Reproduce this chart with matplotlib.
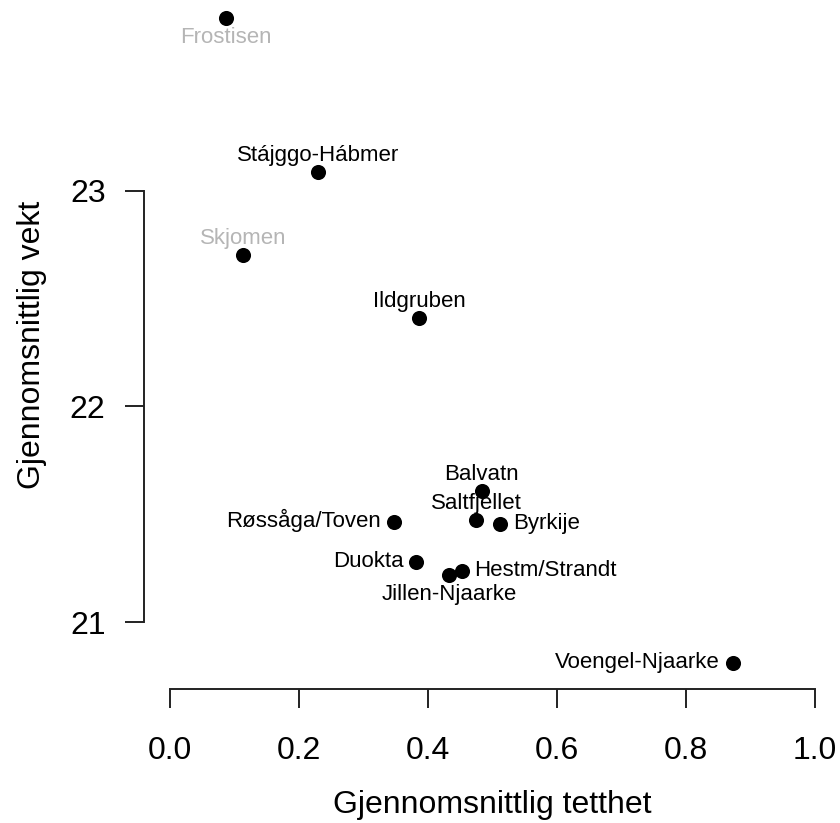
import matplotlib
matplotlib.use("Agg")
import matplotlib.pyplot as plt

plt.rcParams['font.family'] = ['Liberation Sans', 'DejaVu Sans']

names = ["Frostisen", "Stájggo-Hábmer", "Skjomen", "Ildgruben", "Balvatn",
         "Saltfjellet", "Byrkije", "Røssåga/Toven", "Duokta", "Hestm/Strandt",
         "Jillen-Njaarke", "Voengel-Njaarke"]
tetthet = [0.087, 0.230, 0.114, 0.386, 0.483, 0.475, 0.512, 0.347, 0.382,
           0.452, 0.433, 0.872]
vekt = [23.80, 23.084, 22.703, 22.411, 21.609, 21.473, 21.455, 21.463,
        21.280, 21.235, 21.218, 20.810]
# label position (R-style pos: 1 below, 2 left, 3 above, 4 right)
label_pos = [1, 3, 3, 3, 3, 3, 4, 2, 2, 4, 1, 2]
label_col = ["#b5b5b5", "black", "#b5b5b5", "black", "black", "black",
             "black", "black", "black", "black", "black", "black"]

xticks = [0.0, 0.2, 0.4, 0.6, 0.8, 1.0]
xticklabels = ["0.0", "0.2", "0.4", "0.6", "0.8", "1.0"]
yticks = [21, 22, 23]
yticklabels = ["21", "22", "23"]

W, H = 840, 823
fig = plt.figure(figsize=(W / 100, H / 100), dpi=100)
ax = fig.add_axes([144 / W, 134 / H, 697 / W, 697 / H])
ax.set_xlim(-0.04, 1.04)
ax.set_ylim(20.69, 23.92)

ax.scatter(tetthet, vekt, s=118, color="black", zorder=3, linewidths=0)

px = 72 / 100  # pixels -> points
offsets = {1: (0, -25 * px, "center"), 2: (-13 * px, -5 * px, "right"),
           3: (0, 11 * px, "center"), 4: (13 * px, -5 * px, "left")}
for n, x, y, p, c in zip(names, tetthet, vekt, label_pos, label_col):
    dx, dy, ha = offsets[p]
    ax.annotate(n, (x, y), xytext=(dx, dy), textcoords="offset points",
                ha=ha, va="baseline", fontsize=16, color=c, zorder=4)

for s in ["top", "right"]:
    ax.spines[s].set_visible(False)
ax.spines["left"].set_bounds(21, 23)
ax.spines["bottom"].set_bounds(0, 1)
for s in ["left", "bottom"]:
    ax.spines[s].set_linewidth(1.4)
    ax.spines[s].set_color("#222222")

ax.set_xticks(xticks)
ax.set_xticklabels(xticklabels)
ax.set_yticks(yticks)
ax.set_yticklabels(yticklabels)
ax.tick_params(axis="x", length=19 * px, width=1.4, color="#222222",
               pad=20, labelsize=23)
ax.tick_params(axis="y", length=19 * px, width=1.4, color="#222222",
               pad=14, labelsize=23)

fig.text(492 / W, (H - 813) / H, "Gjennomsnittlig tetthet", ha="center",
         va="baseline", fontsize=23)
fig.text(32 / W, (H - 345) / H, "Gjennomsnittlig vekt", ha="center",
         va="center", rotation=90, fontsize=23)

fig.savefig("out.png", dpi=100)
